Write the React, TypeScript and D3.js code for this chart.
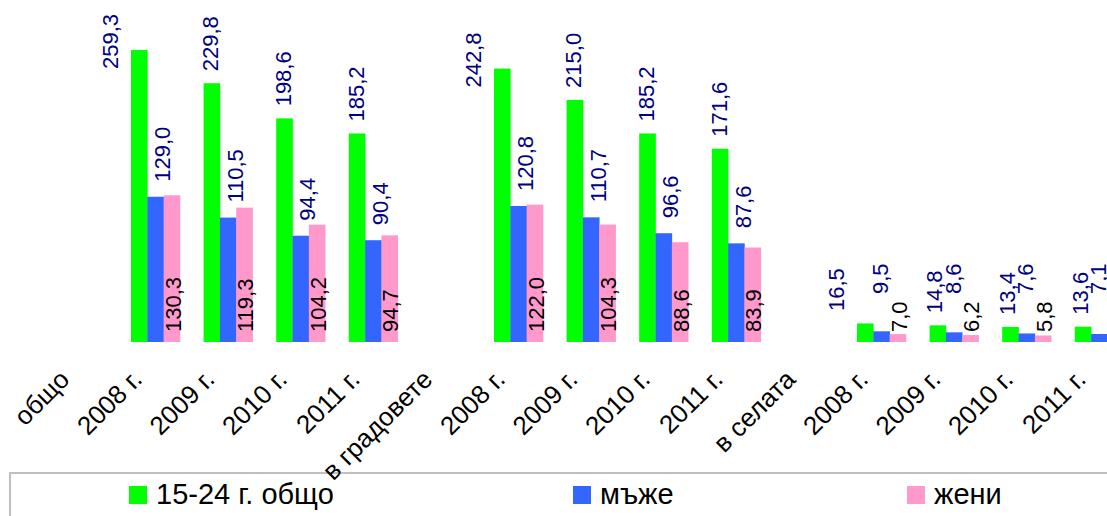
import React from "react";
import * as d3 from "d3";

const categories: string[] = [
  "общо", "2008 г.", "2009 г.", "2010 г.", "2011 г.",
  "в градовете", "2008 г.", "2009 г.", "2010 г.", "2011 г.",
  "в селата", "2008 г.", "2009 г.", "2010 г.", "2011 г.",
];
const totalValues: (number | null)[] = [null, 259.3, 229.8, 198.6, 185.2, null, 242.8, 215.0, 185.2, 171.6, null, 16.5, 14.8, 13.4, 13.6];
const menValues: (number | null)[] = [null, 129.0, 110.5, 94.4, 90.4, null, 120.8, 110.7, 96.6, 87.6, null, 9.5, 8.6, 7.6, 7.1];
const womenValues: (number | null)[] = [null, 130.3, 119.3, 104.2, 94.7, null, 122.0, 104.3, 88.6, 83.9, null, 7.0, 6.2, 5.8, 6.5];
const seriesNames: string[] = ["15-24 г. общо", "мъже", "жени"];

const W = 1107;
const H = 516;
const COLORS = ["#00ff00", "#3366ff", "#ff99cc"];
const FONT = "'Liberation Sans', Arial, sans-serif";
const fmt = (v: number) => v.toFixed(1).replace(".", ",");

export default function App() {
  const baseline = 342;
  const x0 = d3
    .scaleBand<number>()
    .domain(categories.map((_, i) => i))
    .range([46.6, 1135.6])
    .paddingInner(0.325)
    .paddingOuter(0.1625);
  const x1 = d3.scaleBand<number>().domain([0, 1, 2]).range([0, x0.bandwidth()]);
  const y = d3.scaleLinear().domain([0, 300]).range([baseline, baseline - 300 * 1.1261]);
  const bw = x1.bandwidth();
  const series = [totalValues, menValues, womenValues];

  const bars: JSX.Element[] = [];
  const labels: JSX.Element[] = [];

  categories.forEach((_, i) => {
    if (totalValues[i] == null) return;
    const gx = x0(i)!;
    series.forEach((s, k) => {
      const v = s[i] as number;
      bars.push(
        <rect key={`b${i}-${k}`} x={gx + x1(k)!} y={y(v)} width={bw + 0.3} height={baseline - y(v)} fill={COLORS[k]} />
      );
    });
    const gC = gx + x1(0)! + bw / 2;
    const bC = gx + x1(1)! + bw / 2;
    const pC = gx + x1(2)! + bw / 2;
    const tv = totalValues[i] as number;
    const mv = menValues[i] as number;
    const wv = womenValues[i] as number;

    // pink labels near the base
    const pStart = baseline - 10;
    // blue labels above bar, kept above pink labels
    const rawB = y(mv) - 15;
    const bClamped = rawB > 294;
    const bStart = Math.min(rawB, 294);
    const bX = bC + (bClamped ? -1 : 7);
    // green labels
    const firstOfSection = totalValues[i - 1] == null;
    let gX = gC - 1;
    let gStart = y(tv) - 12;
    if (firstOfSection) {
      gX = gx + x1(0)! - 21;
      gStart = Math.min(y(tv) + 19, bStart + 17);
    } else if (bClamped) {
      gX = gC - 3;
    }
    const lab = (key: string, xx: number, yy: number, txt: string, fill: string) => (
      <text
        key={key}
        transform={`translate(${xx},${yy}) rotate(-90)`}
        dy="0.35em"
        textAnchor="start"
        fontSize={22}
        fontFamily={FONT}
        fill={fill}
      >
        {txt}
      </text>
    );
    labels.push(lab(`lg${i}`, gX, gStart, fmt(tv), "#000080"));
    labels.push(lab(`lb${i}`, bX, bStart, fmt(mv), "#000080"));
    labels.push(lab(`lp${i}`, pC + 1, pStart, fmt(wv), "#000000"));
  });

  const legendX = [129, 573, 907];

  return (
    <svg width={W} height={H} style={{ position: "absolute", left: 0, top: 0, background: "#fff" }}>
      <rect x={0} y={0} width={W} height={H} fill="#ffffff" />
      {/* legend */}
      <rect x={10} y={473} width={1130} height={80} fill="#ffffff" stroke="#c0c0c0" strokeWidth={2} />
      {seriesNames.map((n, k) => (
        <g key={n}>
          <rect x={legendX[k]} y={486} width={18} height={18} fill={COLORS[k]} />
          <text x={legendX[k] + 27} y={504} fontSize={29} fontFamily={FONT} fill="#000">
            {n}
          </text>
        </g>
      ))}
      {bars}
      {labels}
      {categories.map((c, i) => (
        <text
          key={`c${i}`}
          transform={`translate(${x0(i)! + x0.bandwidth() / 2 - 12},${381}) rotate(-45)`}
          textAnchor="end"
          fontSize={26}
          fontFamily={FONT}
          fill="#000"
        >
          {c}
        </text>
      ))}
    </svg>
  );
}
